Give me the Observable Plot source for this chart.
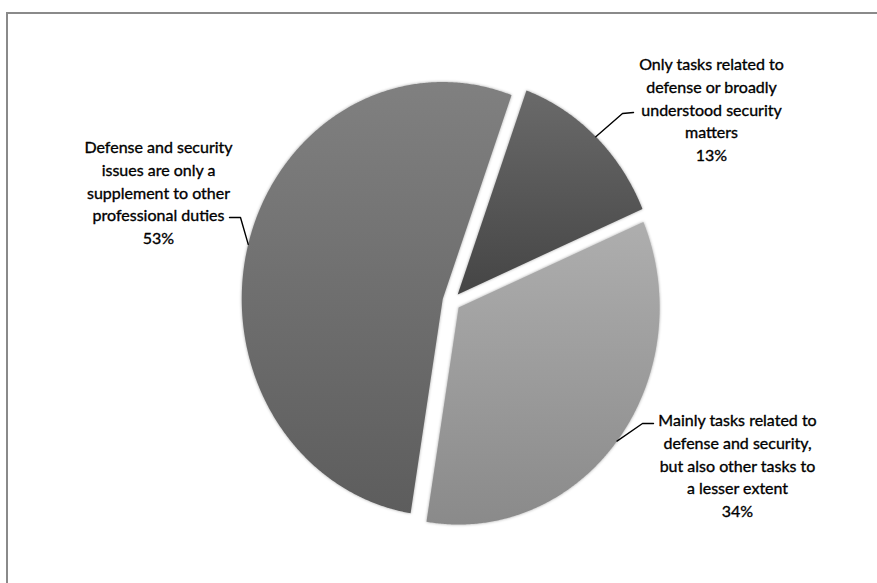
<!DOCTYPE html>
<html>
<head>
<meta charset="utf-8">
<script src="https://cdn.jsdelivr.net/npm/d3@7"></script>
<script src="https://cdn.jsdelivr.net/npm/@observablehq/plot@0.6"></script>
<style>
  html, body { margin: 0; padding: 0; background: #fff; }
  #wrap { position: relative; width: 877px; height: 583px; overflow: hidden; }
  #frame { position: absolute; left: 6px; top: 12px; right: -10px; bottom: -10px;
           border-left: 2px solid #8a8a8a; border-top: 2px solid #8a8a8a; pointer-events: none; }
  #chart { position: absolute; left: 0; top: 0; }
  .slice path { filter: drop-shadow(0px 0px 1.5px rgba(0,0,0,0.35)); }
</style>
</head>
<body>
<div id="wrap"><div id="chart"></div><div id="frame"></div></div>
<script>
// ---- data ----
const categories = [
  "Only tasks related to defense or broadly understood security matters",
  "Mainly tasks related to defense and security, but also other tasks to a lesser extent",
  "Defense and security issues are only a supplement to other professional duties"
];
const labelLines = [
  ["Only tasks related to", "defense or broadly", "understood security", "matters"],
  ["Mainly tasks related to", "defense and security,", "but also other tasks to", "a lesser extent"],
  ["Defense and security", "issues are only a", "supplement to other", "professional duties"]
];
const shares = [13, 34, 53];
const percentLabels = ["13%", "34%", "53%"];

// ---- styles / layout (not data) ----
const gradTop = ["#6a6a6a", "#aeaeae", "#808080"];
const gradBottom = ["#454545", "#8a8a8a", "#5d5d5d"];
const W = 877, H = 583;
const cx = 451, cy = 301, rx = 201, ry = 217;   // pie centre and radii in px (picture is stretched vertically)
const startDeg = 20;                             // rotation of first slice
const explode = 0.045;                           // explosion, fraction of radius
// label block centres and leader hooks, in px
const labelLayout = [
  {x: 711, y: 108, hook: [622, 113], end: [633, 112]},
  {x: 737, y: 464, hook: [642, 423], end: [653, 423]},
  {x: 158, y: 191, hook: [240, 217], end: [229, 217]}
];

const px2x = px => (px - cx) / rx;
const px2y = py => (py - cy) / ry;

const arcs = d3.pie().sort(null).startAngle(startDeg * Math.PI / 180)
  .endAngle(startDeg * Math.PI / 180 + 2 * Math.PI)(shares);

const slices = arcs.map((a, i) => {
  const mid = (a.startAngle + a.endAngle) / 2;
  const ox = explode * Math.sin(mid), oy = -explode * Math.cos(mid);
  const pts = [{x: ox, y: oy}];
  const n = Math.max(8, Math.ceil((a.endAngle - a.startAngle) / (0.4 * Math.PI / 180)));
  for (let k = 0; k <= n; k++) {
    const t = a.startAngle + (a.endAngle - a.startAngle) * k / n;
    pts.push({x: ox + Math.sin(t), y: oy - Math.cos(t)});
  }
  pts.push({x: ox, y: oy});
  const arcMid = {x: ox + Math.sin(mid), y: oy - Math.cos(mid)};
  return {pts, arcMid};
});

const leaders = slices.map((s, i) => {
  const L = labelLayout[i];
  return [s.arcMid, {x: px2x(L.hook[0]), y: px2y(L.hook[1])}, {x: px2x(L.end[0]), y: px2y(L.end[1])}];
});

const labels = categories.map((c, i) => ({
  text: labelLines[i].join("\n") + "\n" + percentLabels[i],
  x: px2x(labelLayout[i].x),
  y: px2y(labelLayout[i].y)
}));

const marks = [];
slices.forEach((s, i) => {
  marks.push(Plot.line(s.pts, {x: "x", y: "y", fill: `url(#grad${i})`, stroke: "none", curve: "linear", className: "slice"}));
});
leaders.forEach(l => {
  marks.push(Plot.line(l, {x: "x", y: "y", stroke: "#000", strokeWidth: 1.4, curve: "linear"}));
});
marks.push(Plot.text(labels, {
  x: "x", y: "y", text: "text", textAnchor: "middle", lineAnchor: "middle",
  lineHeight: 1.42, fontSize: 16, fill: "#000", stroke: "#000", strokeWidth: 0.35
}));

const chart = Plot.plot({
  width: W, height: H,
  margin: 0, marginTop: 0, marginRight: 0, marginBottom: 0, marginLeft: 0,
  x: {domain: [px2x(0), px2x(W)], range: [0, W], axis: null},
  y: {domain: [px2y(0), px2y(H)], range: [0, H], axis: null},
  style: {fontFamily: "Lato, 'Open Sans', sans-serif", background: "transparent", overflow: "visible"},
  marks
});

// gradient defs
const ns = "http://www.w3.org/2000/svg";
const defs = document.createElementNS(ns, "defs");
gradTop.forEach((c, i) => {
  const g = document.createElementNS(ns, "linearGradient");
  g.setAttribute("id", `grad${i}`);
  g.setAttribute("x1", "0"); g.setAttribute("y1", "0");
  g.setAttribute("x2", "0"); g.setAttribute("y2", "1");
  [[0, gradTop[i]], [1, gradBottom[i]]].forEach(([o, col]) => {
    const s = document.createElementNS(ns, "stop");
    s.setAttribute("offset", o);
    s.setAttribute("stop-color", col);
    g.appendChild(s);
  });
  defs.appendChild(g);
});
chart.insertBefore(defs, chart.firstChild);
document.getElementById("chart").appendChild(chart);
</script>
</body>
</html>
